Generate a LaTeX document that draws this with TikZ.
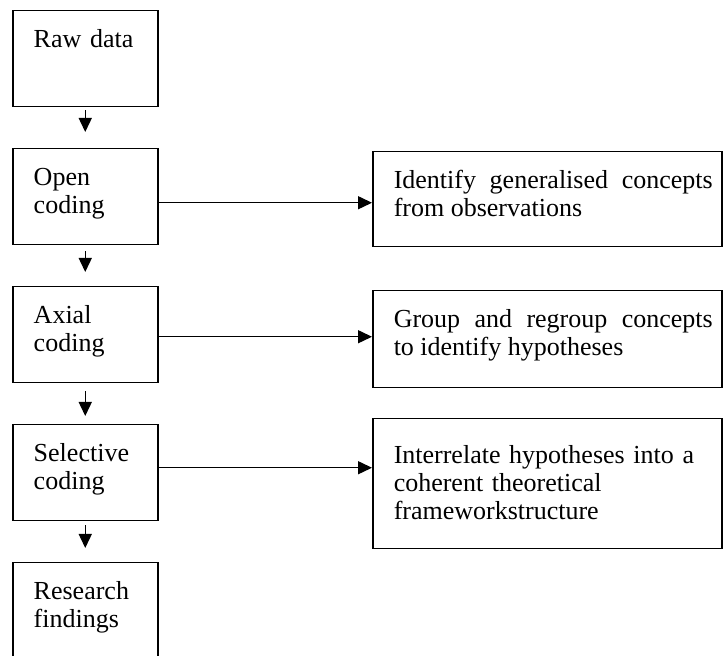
\documentclass[tikz,border=0pt]{standalone}
\usepackage{fontspec}
\setmainfont{Liberation Serif}
\usepackage{tikz}
\usetikzlibrary{arrows.meta,positioning}

\begin{document}
\begin{tikzpicture}[
    x=0.5pt, y=0.5pt,
    font=\fontsize{13}{14}\selectfont,
    node distance=20.25pt and 106.75pt,
    stage/.style={draw, line width=0.75pt, align=left, text width=51.5pt, inner xsep=10.5pt, inner ysep=0pt, text height=18.5pt, text depth=29.5pt},
    note/.style={draw, line width=0.75pt, align=justify, text width=165.5pt, inner xsep=4.5pt, inner ysep=0pt, text height=18.5pt, text depth=29pt, execute at begin node={\leftskip=6pt}},
    arrow/.style={-{Triangle[length=7pt,width=6.5pt]}, line width=0.75pt}
]
    \useasboundingbox (0,0) rectangle (724,-656);
    \clip (0,0) rectangle (724,-656);

    % coding stages
    \node[stage, anchor=north west] (raw) at (12,-10) {Raw data};
    \node[stage, below=of raw] (open) {Open\\coding};
    \node[stage, below=of open] (axial) {Axial\\coding};
    \node[stage, below=of axial] (selective) {Selective\\coding};
    \node[stage, below=of selective] (findings) {Research\\findings};

    % what each stage does
    \node[note, right=of open.north east, anchor=north west, yshift=-1.5pt] (concepts) {Identify generalised concepts\linebreak from observations};
    \node[note, right=of axial.north east, anchor=north west, yshift=-2pt, text depth=30pt] (hypotheses) {Group and regroup concepts\linebreak to identify hypotheses};
    \node[note, right=of selective.north east, anchor=north west, yshift=3pt, align=left, text height=22.5pt, text depth=42.5pt] (framework) {Interrelate hypotheses into a\\coherent theoretical\\frameworkstructure};

    \draw[arrow, shorten <=1.5pt, shorten >=8pt] (raw) -- (open);
    \draw[arrow, shorten <=3pt, shorten >=7pt] (open) -- (axial);
    \draw[arrow, shorten <=4pt, shorten >=4pt] (axial) -- (selective);
    \draw[arrow, shorten <=2pt, shorten >=7pt] (selective) -- (findings);

    \draw[arrow] ([yshift=-3pt]open.east) -- ([yshift=-3pt]open.east -| concepts.west);
    \draw[arrow] ([yshift=-1pt]axial.east) -- ([yshift=-1pt]axial.east -| hypotheses.west);
    \draw[arrow] ([yshift=2.5pt]selective.east) -- ([yshift=2.5pt]selective.east -| framework.west);
\end{tikzpicture}
\end{document}
